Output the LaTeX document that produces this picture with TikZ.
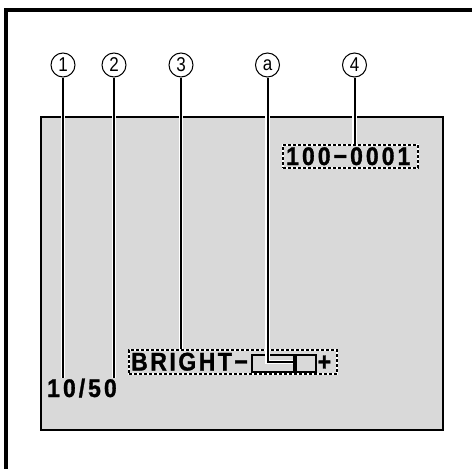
\documentclass[tikz,border=0pt]{standalone}
\usepackage{fontspec}
\setmainfont{Liberation Sans}
\newfontfamily\lcdnum[LetterSpace=12,FakeBold=1.2,FakeStretch=0.9]{Liberation Sans Bold}
\newfontfamily\lcdword[LetterSpace=10,FakeBold=1.2,FakeStretch=0.9]{Liberation Sans Bold}
\definecolor{screengray}{HTML}{D9D9D9}
\newcommand{\cnum}[1]{\scalebox{0.85}[1]{#1}}
\tikzset{
  callout/.style={circle, draw=black, line width=1pt, fill=white, minimum size=24pt, inner sep=0pt, font=\fontsize{20}{20}\selectfont},
  leader/.style={line width=2pt, black, preaction={draw=white, line width=4.5pt}},
  dashbox/.style={draw=black, line width=1.5pt, dash pattern=on 3pt off 2pt, preaction={draw=white, line width=1.5pt, solid}, inner sep=0pt},
  lcd/.style={font=\lcdnum\fontsize{25.5}{25.5}\selectfont, inner sep=0pt, anchor=base west},
  lcdw/.style={font=\lcdword\fontsize{25.5}{25.5}\selectfont, inner sep=0pt, anchor=base west}
}
\begin{document}
\begin{tikzpicture}[x=1pt,y=-1pt]
\useasboundingbox (0,0) rectangle (472,469);
% outer frame (top and left edges)
\draw[line width=4pt] (6,475) -- (6,9.5) -- (480,9.5);
% screen
\node[draw=black, line width=2pt, fill=screengray, minimum width=402pt, minimum height=313pt, inner sep=0pt, anchor=north west] (screen) at (40,115.5) {};
% callouts
\node[callout] (c1) at (63,65) {\cnum{1}};
\node[callout] (c2) at (114,65) {\cnum{2}};
\node[callout] (c3) at (181,65) {\cnum{3}};
\node[callout] (ca) at (267.5,65) {\cnum{a}};
\node[callout] (c4) at (354.5,65) {\cnum{4}};
% counter box
\node[dashbox, minimum width=135pt, minimum height=23pt, anchor=north west] (numbox) at (282,144) {};
\node[lcd] (num) at (286,165) {100−0001};
% bright box
\node[dashbox, minimum width=208pt, minimum height=24pt, anchor=north west] (bbox) at (128,349) {};
\node[lcdw] (bright) at (131,370.5) {BRIGHT−};
\node[draw=black, line width=1.5pt, fill=screengray, minimum width=64pt, minimum height=17pt, inner sep=0pt, anchor=north west] (slider) at (251,354) {};
\fill[black] (292.5,354) rectangle (296.5,371);
\coordinate (knob) at (292.5,362);
\node[lcd] (plus) at (317.5,370.5) {+};
% frame counter
\node[lcd] (frames) at (47,397) {10\kern3pt/\kern3pt50};
% leaders
\coordinate (e1) at (63,378);
\coordinate (e2) at (114,378);
\draw[leader] (c1.south) -- (e1);
\draw[leader] (c2.south) -- (e2);
\draw[leader] (c3.south) -- (c3 |- bbox.north);
\draw[leader] (c4.south) -- (c4 |- numbox.north);
\draw[leader] (ca.south) |- (knob);
\end{tikzpicture}
\end{document}
